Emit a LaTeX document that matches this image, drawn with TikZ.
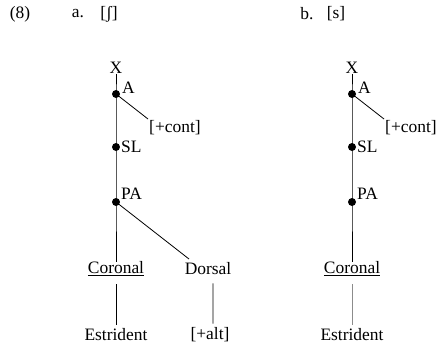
\documentclass[tikz,border=0pt]{standalone}
\usepackage{fontspec}
\setmainfont{Liberation Serif}
\begin{document}
\begin{tikzpicture}[x=1bp,y=-1bp,
  lbl/.style={font=\fontsize{17.5}{20}\selectfont, inner sep=0pt},
  dot/.style={circle, fill=black, inner sep=0pt, minimum size=8bp},
  ln/.style={line width=0.8bp, black},
  gln/.style={line width=0.8bp, black!45}]
\useasboundingbox (0,0) rectangle (446,352);
% headings
\node[lbl] (num) at (20,14) {(8)};
\node[lbl] (la) at (78,14) {a.};
\node[lbl] (sa) at (109,14) {[ʃ]};
\node[lbl] (lb) at (307,14) {b.};
\node[lbl] (sb) at (336,14) {[s]};
% left tree
\node[lbl] (X1) at (116,68) {X};
\node[dot] (A1) at (116,94) {};
\node[lbl, anchor=west] (A1t) at (122,88) {A};
\node[lbl, anchor=west] (c1) at (149,128) {[+cont]};
\node[dot] (S1) at (116,147) {};
\node[lbl, anchor=west] (S1t) at (121,147) {SL};
\node[dot] (P1) at (116,202) {};
\node[lbl, anchor=west] (P1t) at (121,194) {PA};
\node[lbl] (C1) at (116,269) {\underline{Coronal}};
\node[lbl] (D1) at (208,269) {Dorsal};
\node[lbl] (E1) at (116,335) {Estrident};
\node[lbl] (T1) at (210,335) {[+alt]};
\coordinate (c1e) at (148,119);
\coordinate (d1e) at (189,259);
\draw[ln] (X1.south) -- (A1.center) -- (S1.center) -- (P1.center) -- (C1.north);
\draw[ln] (A1.center) -- (c1e);
\draw[ln] (P1.center) -- (d1e);
\path (C1.south) ++(0,8) coordinate (ce1a) (E1.north) ++(0,-4) coordinate (ce1b);
\draw[ln] (ce1a) -- (ce1b);
\path ([xshift=5bp]D1.south) ++(0,8) coordinate (de1a) ([xshift=3bp]T1.north) ++(0,-4) coordinate (de1b);
\draw[ln] (de1a) -- (de1b);
% right tree
\node[lbl] (X2) at (352,68) {X};
\node[dot] (A2) at (352,94) {};
\node[lbl, anchor=west] (A2t) at (358,88) {A};
\node[lbl, anchor=west] (c2) at (385,128) {[+cont]};
\node[dot] (S2) at (352,147) {};
\node[lbl, anchor=west] (S2t) at (357,147) {SL};
\node[dot] (P2) at (352,202) {};
\node[lbl, anchor=west] (P2t) at (357,194) {PA};
\node[lbl] (C2) at (352,269) {\underline{Coronal}};
\node[lbl] (E2) at (352,335) {Estrident};
\coordinate (c2e) at (384,119);
\draw[ln] (X2.south) -- (A2.center) -- (S2.center) -- (P2.center) -- (C2.north);
\draw[ln] (A2.center) -- (c2e);
\path (C2.south) ++(0,8) coordinate (ce2a) (E2.north) ++(0,-4) coordinate (ce2b);
\draw[gln] (ce2a) -- (ce2b);
\end{tikzpicture}
\end{document}
